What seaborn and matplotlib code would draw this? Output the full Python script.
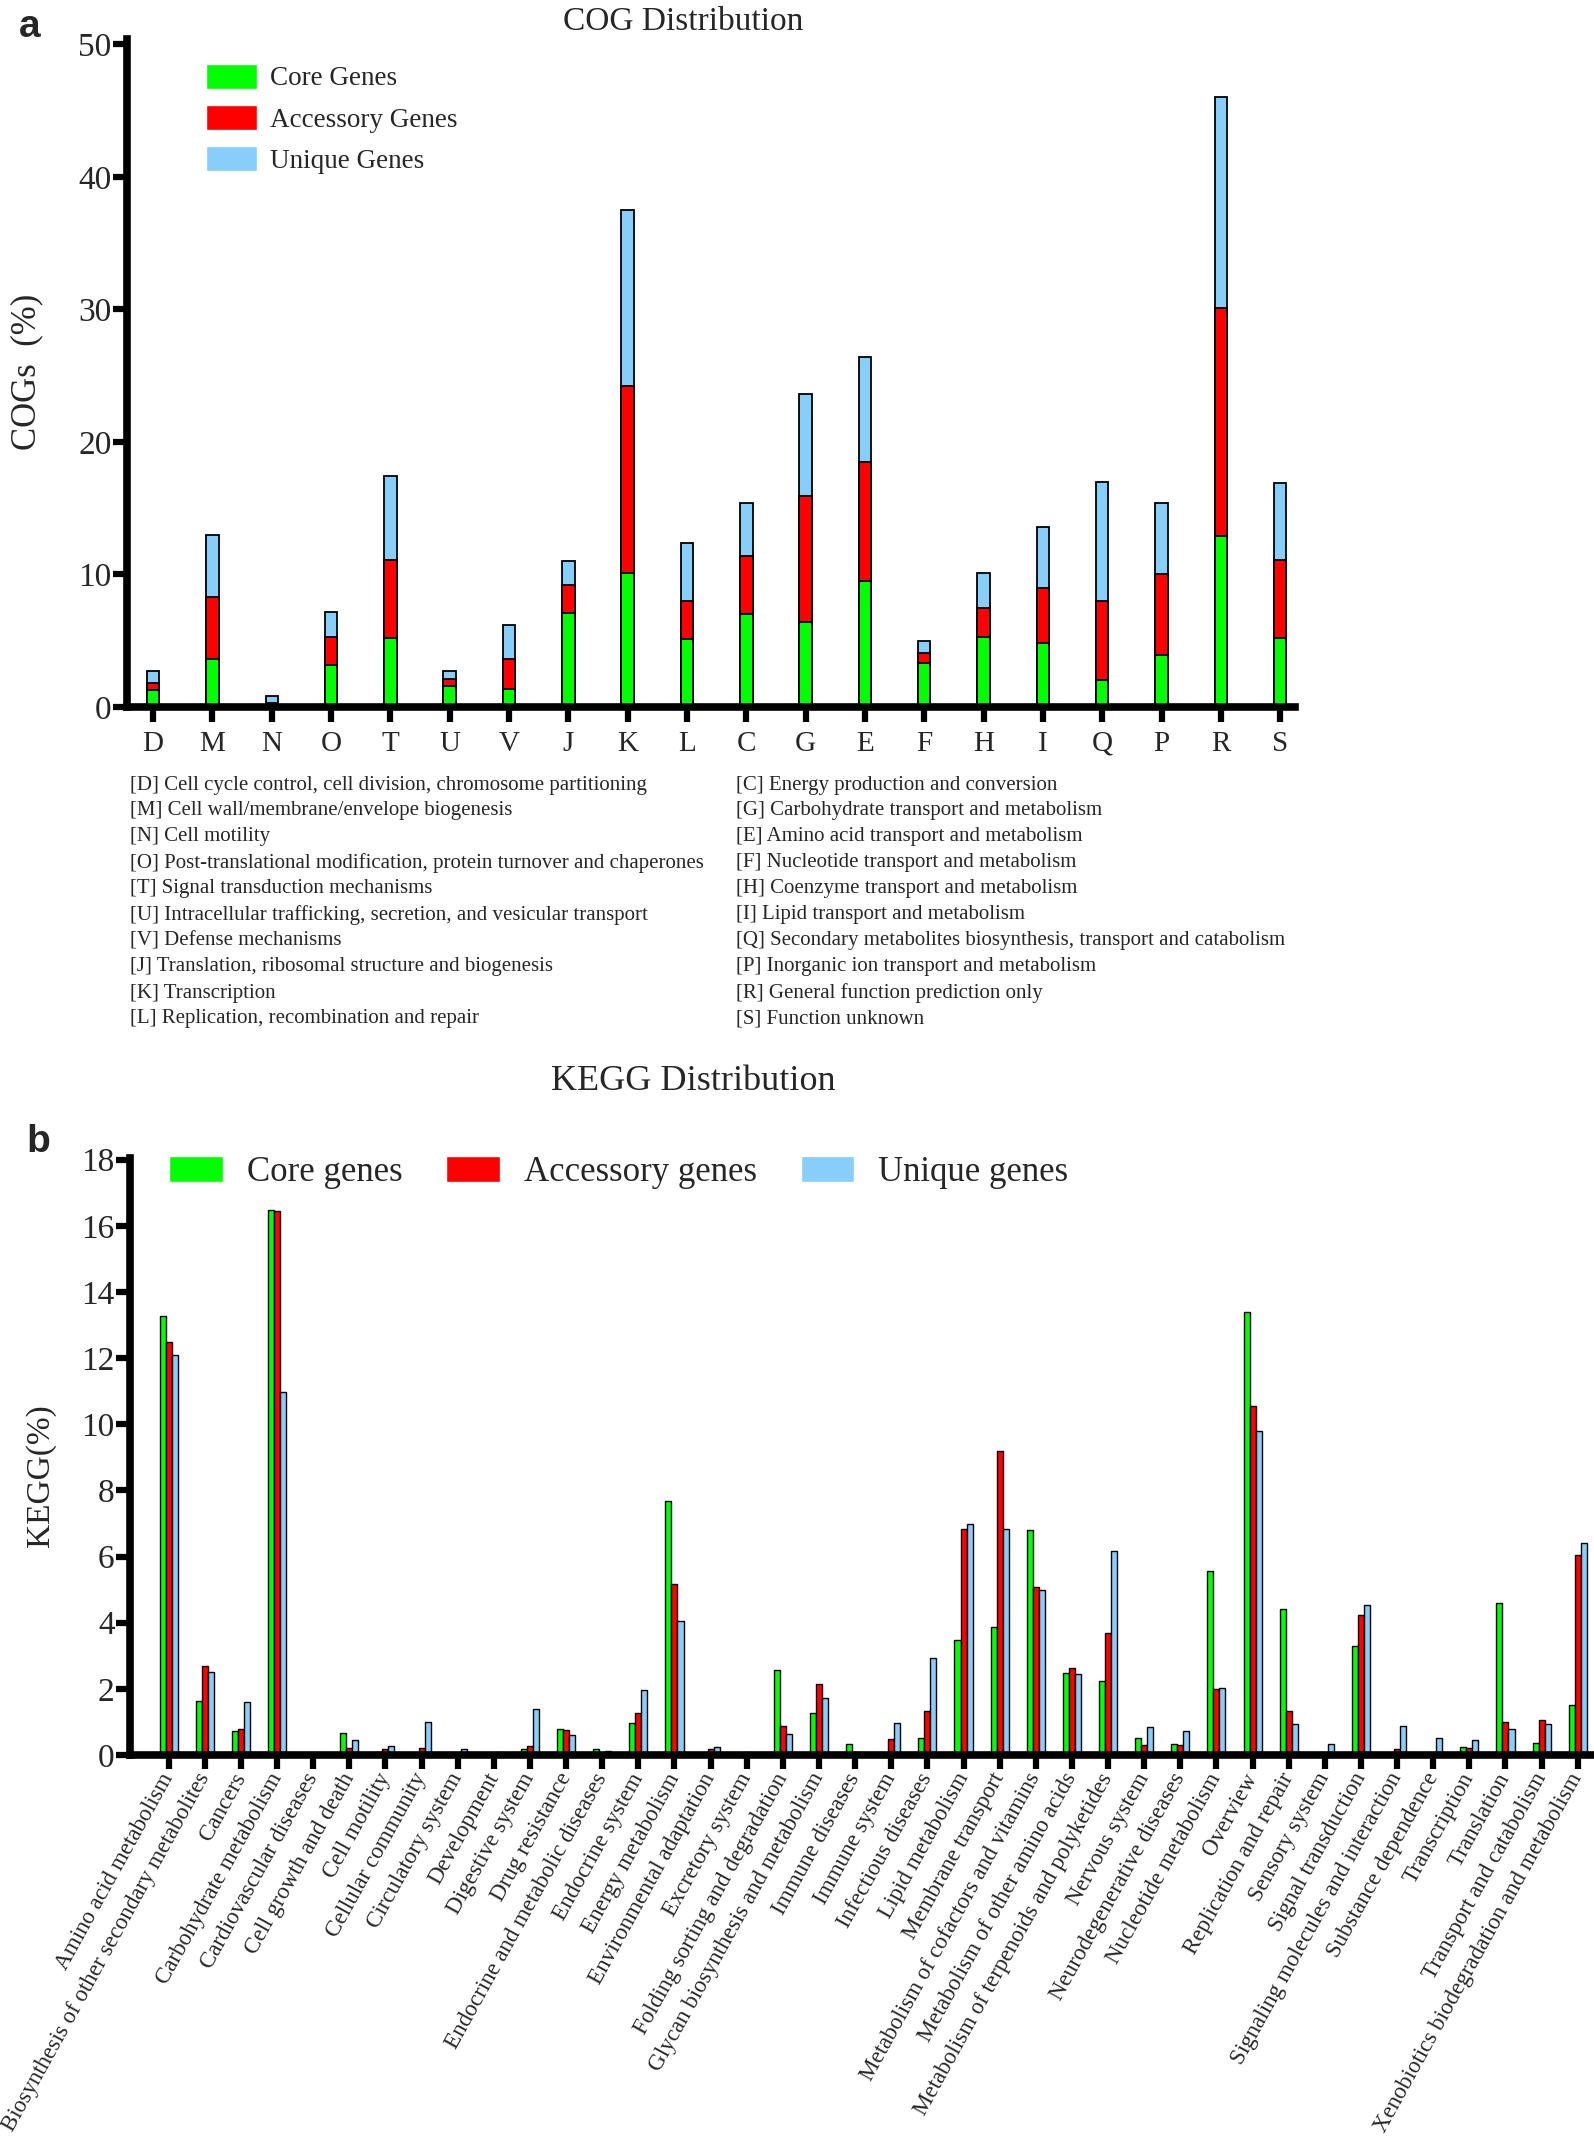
import pandas as pd
import matplotlib
matplotlib.use("Agg")
import matplotlib.pyplot as plt
import seaborn as sns
from matplotlib.patches import Patch

sns.set_style("white")
plt.rcParams["font.family"] = ["Liberation Serif", "DejaVu Serif"]

# ---- COG data (percent) ----
cog_letters = ["D", "M", "N", "O", "T", "U", "V", "J", "K", "L",
               "C", "G", "E", "F", "H", "I", "Q", "P", "R", "S"]
cog_core = [1.3, 3.6, 0.2, 3.2, 5.2, 1.6, 1.35, 7.1, 10.1, 5.1,
            7.0, 6.4, 9.5, 3.3, 5.3, 4.8, 2.0, 3.9, 12.9, 5.2]
cog_accessory = [0.5, 4.7, 0.1, 2.1, 5.9, 0.5, 2.25, 2.1, 14.1, 2.9,
                 4.4, 9.5, 9.0, 0.8, 2.2, 4.2, 6.0, 6.1, 17.2, 5.9]
cog_unique = [0.9, 4.7, 0.5, 1.9, 6.3, 0.6, 2.6, 1.8, 13.3, 4.4,
              4.0, 7.7, 7.9, 0.9, 2.6, 4.6, 9.0, 5.4, 15.9, 5.8]
cog_yticks = [0, 10, 20, 30, 40, 50]

cog_desc_left = [
    "[D] Cell cycle control, cell division, chromosome partitioning",
    "[M] Cell wall/membrane/envelope biogenesis",
    "[N] Cell motility",
    "[O] Post-translational modification, protein turnover and chaperones",
    "[T] Signal transduction mechanisms",
    "[U] Intracellular trafficking, secretion, and vesicular transport",
    "[V] Defense mechanisms",
    "[J] Translation, ribosomal structure and biogenesis",
    "[K] Transcription",
    "[L] Replication, recombination and repair",
]
cog_desc_right = [
    "[C] Energy production and conversion",
    "[G] Carbohydrate transport and metabolism",
    "[E] Amino acid transport and metabolism",
    "[F] Nucleotide transport and metabolism",
    "[H] Coenzyme transport and metabolism",
    "[I] Lipid transport and metabolism",
    "[Q] Secondary metabolites biosynthesis, transport and catabolism",
    "[P] Inorganic ion transport and metabolism",
    "[R] General function prediction only",
    "[S] Function unknown",
]

# ---- KEGG data (percent) ----
kegg_pathways = [
    "Amino acid metabolism", "Biosynthesis of other secondary metabolites",
    "Cancers", "Carbohydrate metabolism", "Cardiovascular diseases",
    "Cell growth and death", "Cell motility", "Cellular community",
    "Circulatory system", "Development", "Digestive system",
    "Drug resistance", "Endocrine and metabolic diseases", "Endocrine system",
    "Energy metabolism", "Environmental adaptation", "Excretory system",
    "Folding sorting and degradation", "Glycan biosynthesis and metabolism",
    "Immune diseases", "Immune system", "Infectious diseases",
    "Lipid metabolism", "Membrane transport",
    "Metabolism of cofactors and vitamins", "Metabolism of other amino acids",
    "Metabolism of terpenoids and polyketides", "Nervous system",
    "Neurodegenerative diseases", "Nucleotide metabolism", "Overview",
    "Replication and repair", "Sensory system", "Signal transduction",
    "Signaling molecules and interaction", "Substance dependence",
    "Transcription", "Translation", "Transport and catabolism",
    "Xenobiotics biodegradation and metabolism",
]
kegg_core = [13.26, 1.62, 0.74, 16.48, 0.02, 0.67, 0.10, 0.0, 0.02, 0.0,
             0.18, 0.78, 0.18, 0.97, 7.67, 0.0, 0.02, 2.57, 1.28, 0.32,
             0.0, 0.50, 3.47, 3.87, 6.80, 2.47, 2.23, 0.50, 0.32, 5.55,
             13.38, 4.42, 0.05, 3.29, 0.0, 0.05, 0.25, 4.59, 0.37, 1.51]
kegg_accessory = [12.50, 2.69, 0.78, 16.46, 0.0, 0.22, 0.18, 0.22, 0.0, 0.05,
                  0.26, 0.75, 0.05, 1.28, 5.17, 0.18, 0.08, 0.87, 2.16, 0.10,
                  0.49, 1.33, 6.84, 9.18, 5.09, 2.64, 3.68, 0.29, 0.29, 2.01,
                  10.54, 1.33, 0.0, 4.23, 0.18, 0.0, 0.22, 1.01, 1.07, 6.05]
kegg_unique = [12.08, 2.50, 1.60, 10.97, 0.0, 0.44, 0.28, 1.01, 0.17, 0.10,
               1.39, 0.60, 0.12, 1.97, 4.05, 0.24, 0.07, 0.64, 1.72, 0.02,
               0.97, 2.94, 6.98, 6.82, 5.00, 2.45, 6.17, 0.85, 0.72, 2.02,
               9.79, 0.94, 0.32, 4.54, 0.87, 0.50, 0.46, 0.79, 0.94, 6.41]
kegg_yticks = [0, 2, 4, 6, 8, 10, 12, 14, 16, 18]

green, red, blue = "#00ff00", "#ff0000", "#87cefa"

W, H = 1594, 2149
fig = plt.figure(figsize=(W / 100, H / 100), dpi=100)


def fx(px):
    return px / W


def fy(py):
    return 1 - py / H


def style_axes(ax, yticks):
    for s in ["top", "right"]:
        ax.spines[s].set_visible(False)
    for s in ["left", "bottom"]:
        ax.spines[s].set_linewidth(5.5)
        ax.spines[s].set_color("black")
    ax.tick_params(axis="both", direction="out", width=4.5, length=10,
                   color="black", bottom=True, left=True)
    ax.set_yticks(yticks)
    ax.set_yticklabels([str(v) for v in yticks], fontsize=24,
                       family="Liberation Serif")
    ax.tick_params(axis="y", pad=1)
    ax.set_xlabel("")
    ax.set_ylabel("")


# ---- panel a: COG stacked bars ----
ax1 = fig.add_axes([fx(127), fy(707), fx(1295 - 127), (707 - 39) / H])
cog = pd.DataFrame({"cog": cog_letters, "core": cog_core,
                    "acc": cog_accessory, "uni": cog_unique})
cog["acc_top"] = cog["core"] + cog["acc"]
cog["total"] = cog["acc_top"] + cog["uni"]
for col, color in [("total", blue), ("acc_top", red), ("core", green)]:
    sns.barplot(data=cog, x="cog", y=col, color=color, width=0.21,
                saturation=1, edgecolor="black", linewidth=1.3,
                errorbar=None, ax=ax1)
ax1.set_xlim(-0.44, 19.25)
ax1.set_ylim(0, 50.4)
style_axes(ax1, cog_yticks)
ax1.tick_params(axis="x", labelsize=21, pad=6, length=11)
ax1.legend(handles=[Patch(facecolor=green, label="Core Genes"),
                    Patch(facecolor=red, label="Accessory Genes"),
                    Patch(facecolor=blue, label="Unique Genes")],
           loc="upper left", bbox_to_anchor=(0.0676, 0.963), frameon=False,
           fontsize=19.5, handlelength=1.9, handleheight=1.04,
           handletextpad=0.48, labelspacing=0.5, borderpad=0,
           borderaxespad=0)

fig.text(fx(683), fy(22), "COG Distribution", fontsize=24,
         ha="center", va="center")
fig.text(fx(30), fy(27), "a", fontsize=28, fontweight="bold",
         family="Liberation Sans", ha="center", va="center")
fig.text(fx(27), fy(372), "COGs  (%)", fontsize=25, rotation=90,
         ha="center", va="center")

for i, (left, right) in enumerate(zip(cog_desc_left, cog_desc_right)):
    y = fy(785 + 26 * i)
    fig.text(fx(130), y, left, fontsize=15, ha="left", va="center")
    fig.text(fx(736), y, right, fontsize=15, ha="left", va="center")

# ---- panel b: KEGG grouped bars ----
ax2 = fig.add_axes([fx(130), fy(1755), fx(W - 130), (1755 - 1158) / H])
kegg = pd.DataFrame({"pathway": kegg_pathways, "Core genes": kegg_core,
                     "Accessory genes": kegg_accessory,
                     "Unique genes": kegg_unique})
kegg_long = kegg.melt(id_vars="pathway", var_name="group", value_name="pct")
sns.barplot(data=kegg_long, x="pathway", y="pct", hue="group",
            palette=[green, red, blue], width=0.5, gap=0, saturation=1,
            edgecolor="black", linewidth=1, errorbar=None, legend=False,
            ax=ax2)
ax2.set_xlim(-1.07, 39.45)
ax2.set_ylim(0, 18.05)
style_axes(ax2, kegg_yticks)
ax2.tick_params(axis="x", length=10, pad=4)
ax2.set_xticks(range(len(kegg_pathways)))
ax2.set_xticklabels(kegg_pathways, rotation=61, ha="right", va="center",
                    rotation_mode="anchor", fontsize=16.6)
ax2.legend(handles=[Patch(facecolor=green, label="Core genes"),
                    Patch(facecolor=red, label="Accessory genes"),
                    Patch(facecolor=blue, label="Unique genes")],
           loc="center left", bbox_to_anchor=(0.0266, 0.975), ncol=3,
           frameon=False, fontsize=25, handlelength=1.55, handleheight=0.77,
           handletextpad=0.69, columnspacing=1.26, borderpad=0,
           borderaxespad=0)

fig.text(fx(693), fy(1081), "KEGG Distribution", fontsize=26,
         ha="center", va="center")
fig.text(fx(38), fy(1142), "b", fontsize=28, fontweight="bold",
         family="Liberation Sans", ha="center", va="center")
fig.text(fx(41), fy(1476), "KEGG(%)", fontsize=24, rotation=90,
         ha="center", va="center")

fig.savefig("out.png", dpi=100)
